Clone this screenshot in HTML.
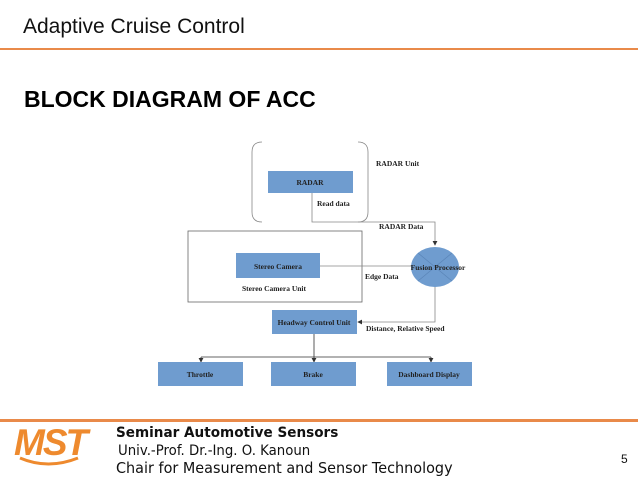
<!DOCTYPE html>
<html><head><meta charset="utf-8"><style>
body{margin:0;width:638px;height:479px;background:#fff;position:relative;overflow:hidden;font-family:"Liberation Sans",sans-serif}
.a{position:absolute;white-space:nowrap}
</style></head><body>
<div class="a" style="left:23px;top:15px;font-size:21px;color:#111">Adaptive Cruise Control</div>
<div class="a" style="left:0;top:48px;width:638px;height:2px;background:#e98a4a"></div>
<div class="a" style="left:24px;top:86px;font-size:23px;font-weight:bold;color:#000">BLOCK DIAGRAM OF ACC</div>
<svg class="a" style="left:0;top:0" width="638" height="479" font-family="Liberation Serif" font-weight="bold" font-size="7.5">
<defs><marker id="m" markerWidth="6" markerHeight="6" refX="5" refY="3" orient="auto"><path d="M0,0 L6,3 L0,6z" fill="#333"/></marker></defs>
<g fill="none" stroke="#888" stroke-width="0.8">
<path d="M262,142 Q252,142 252,152 L252,212 Q252,222 262,222"/>
<path d="M358,142 Q368,142 368,152 L368,212 Q368,222 358,222"/>
<rect x="188" y="231" width="174" height="71" stroke="#666"/>
<path d="M312,193 V222 H435 V245" marker-end="url(#m)"/>
<path d="M320,266 H411"/>
<path d="M435,286 V322 H358" marker-end="url(#m)"/>
<path d="M314,334 V357 M201,357 H431" stroke="#333"/>
<path d="M201,357 V362" stroke="#333" marker-end="url(#m)"/>
<path d="M314,357 V362" stroke="#333" marker-end="url(#m)"/>
<path d="M431,357 V362" stroke="#333" marker-end="url(#m)"/>
</g>
<g fill="#6f9ccf">
<rect x="268" y="171" width="85" height="22"/>
<rect x="236" y="253" width="84" height="25"/>
<ellipse cx="435" cy="267" rx="24" ry="20"/>
<rect x="272" y="310" width="85" height="24"/>
<rect x="158" y="362" width="85" height="24"/>
<rect x="271" y="362" width="85" height="24"/>
<rect x="387" y="362" width="85" height="24"/>
</g>
<path d="M418,253 L452,281 M452,253 L418,281" stroke="#5a85b8" stroke-width="0.7"/>
<g fill="#222">
<text x="310" y="185" text-anchor="middle">RADAR</text>
<text x="278" y="269" text-anchor="middle">Stereo Camera</text>
<text x="438" y="270" text-anchor="middle">Fusion Processor</text>
<text x="314" y="325" text-anchor="middle">Headway Control Unit</text>
<text x="200" y="377" text-anchor="middle">Throttle</text>
<text x="313" y="377" text-anchor="middle">Brake</text>
<text x="429" y="377" text-anchor="middle">Dashboard Display</text>
<text x="376" y="166">RADAR Unit</text>
<text x="317" y="206">Read data</text>
<text x="379" y="229">RADAR Data</text>
<text x="365" y="279">Edge Data</text>
<text x="242" y="291">Stereo Camera Unit</text>
<text x="366" y="331">Distance, Relative Speed</text>
</g>
</svg>
<div class="a" style="left:0;top:419px;width:638px;height:3px;background:#e98a4a"></div>
<div class="a" style="left:14px;top:422px;font-size:37px;font-weight:bold;font-style:italic;color:#ee8a2e;letter-spacing:-2px">MST</div>
<svg class="a" style="left:18px;top:456px" width="62" height="12"><path d="M2,2 Q30,14 60,2" stroke="#ee8a2e" stroke-width="3" fill="none"/></svg>
<div class="a" style="left:116px;top:425px;font-size:14px;font-weight:bold;font-family:'DejaVu Sans',sans-serif;color:#111;transform:scaleX(0.97);transform-origin:left">Seminar Automotive Sensors</div>
<div class="a" style="left:118px;top:443px;font-size:14px;color:#111;font-family:'DejaVu Sans',sans-serif;transform:scaleX(0.95);transform-origin:left">Univ.-Prof. Dr.-Ing. O. Kanoun</div>
<div class="a" style="left:116px;top:459px;font-size:15px;color:#111;font-family:'DejaVu Sans',sans-serif;transform:scaleX(0.96);transform-origin:left">Chair for Measurement and Sensor Technology</div>
<div class="a" style="left:621px;top:452px;font-size:12px;color:#111">5</div>
</body></html>
